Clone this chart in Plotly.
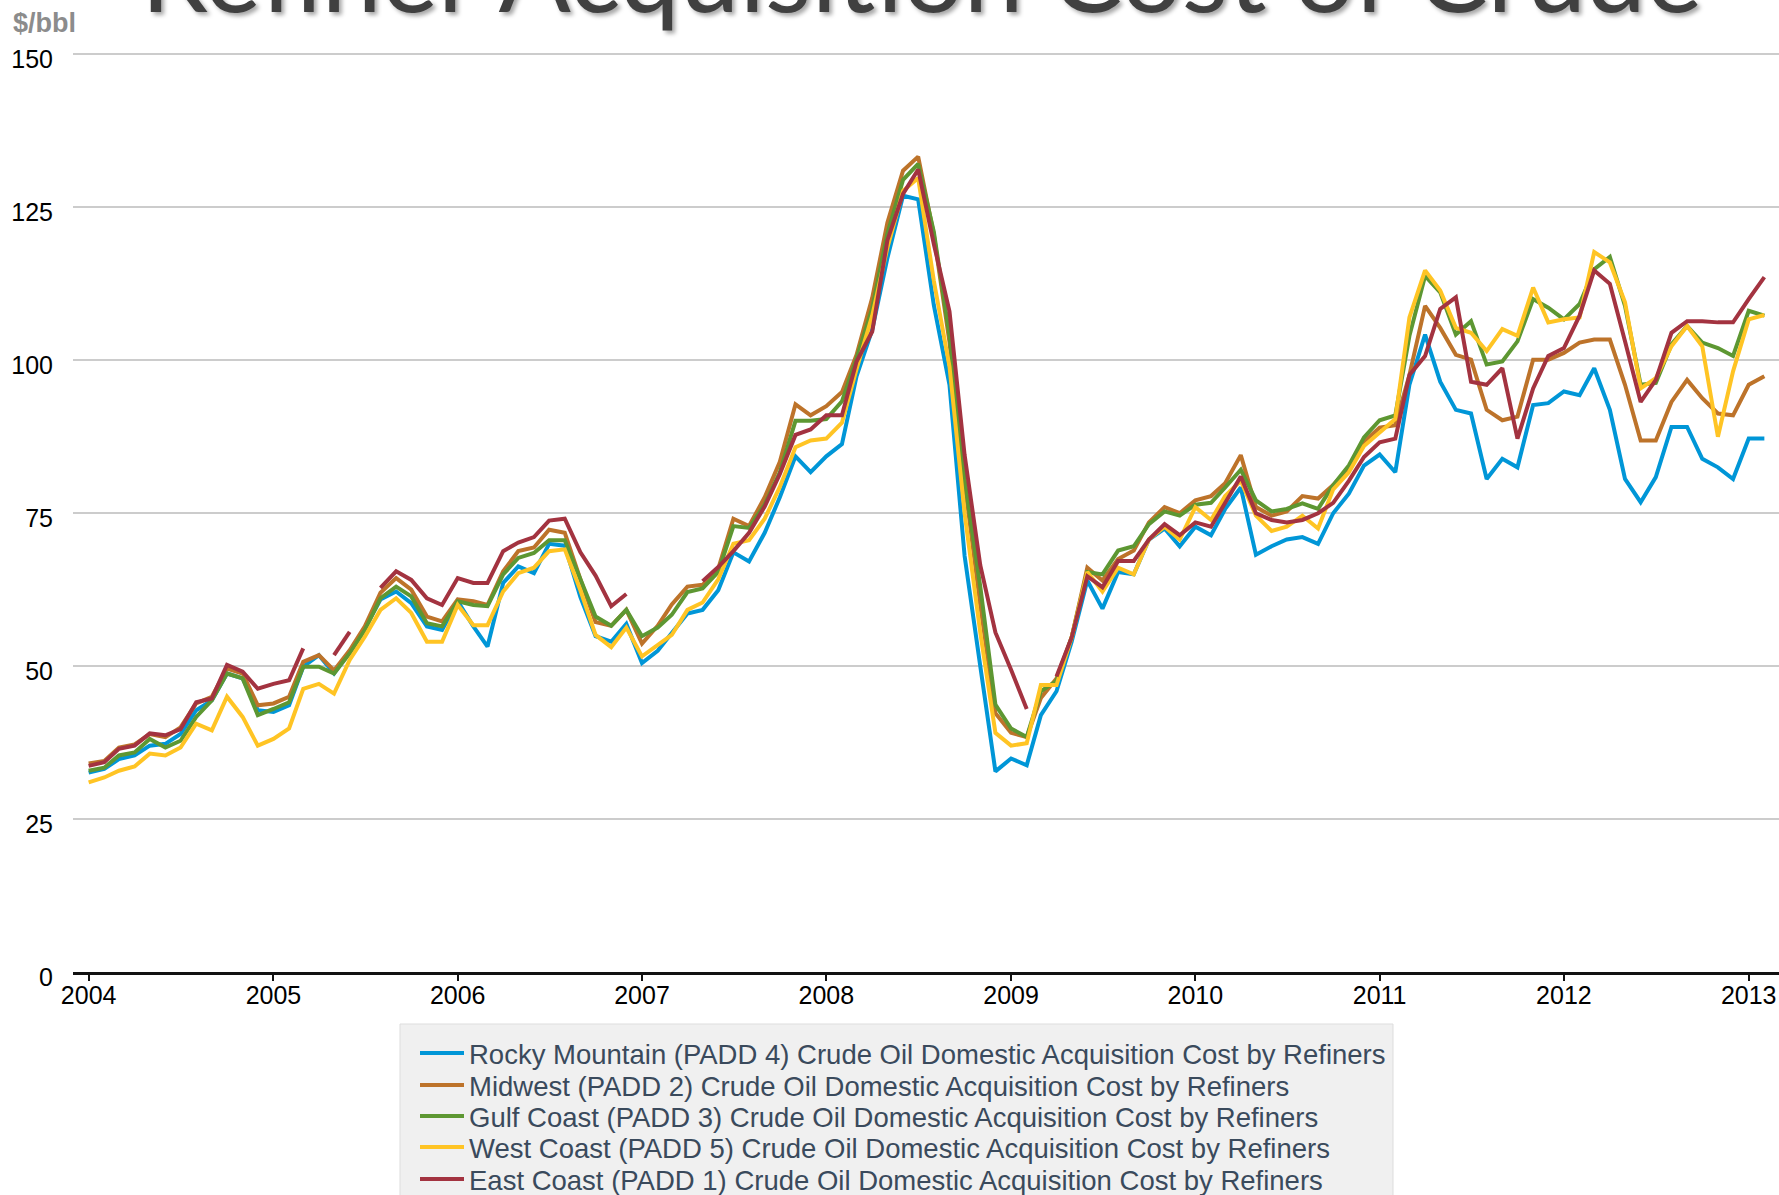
import pandas as pd
import plotly.graph_objects as go

# ---------------- data (monthly, Jan 2004 - Feb 2013, $/bbl) ----------------
months = pd.date_range("2004-01-01", periods=110, freq="MS")

rocky_mountain = [32.6,33.2,34.8,35.4,37.0,37.3,38.9,42.8,44.4,48.8,48.0,42.8,
                  42.5,43.6,49.9,51.8,48.8,52.4,56.2,60.9,62.2,60.3,56.5,55.9,
                  60.6,56.5,53.2,63.6,66.3,65.2,70.0,69.7,61.3,54.9,54.0,56.9,
                  50.5,52.5,55.4,58.6,59.2,62.4,68.6,67.1,71.8,77.6,84.3,81.7,
                  84.3,86.3,97.4,105.0,116.7,126.9,126.3,109.0,96.0,68.0,50.0,32.8,
                  34.9,33.8,42.0,45.9,54.0,64.0,59.4,65.4,65.0,70.7,72.5,69.6,
                  72.8,71.4,75.7,79.2,68.2,69.6,70.7,71.1,70.0,75.0,78.2,82.8,
                  84.6,81.7,96.0,104.2,96.5,91.9,91.3,80.6,83.9,82.5,92.7,93.0,
                  94.9,94.3,98.7,91.9,80.6,76.8,80.9,89.1,89.1,83.9,82.5,80.6,
                  87.2,87.2]

midwest = [34.1,34.5,36.7,37.2,38.9,38.4,40.0,43.9,45.0,49.6,48.8,43.6,
           43.9,45.0,50.7,51.8,49.3,52.6,56.5,62.0,64.4,62.5,58.1,57.3,
           60.9,60.6,60.0,65.5,68.8,69.4,72.3,71.8,64.2,57.2,56.6,59.2,
           53.7,56.6,60.1,63.0,63.3,65.9,74.1,72.9,77.6,83.4,92.8,91.0,
           92.5,94.8,100.9,110.2,122.5,131.0,133.3,120.5,103.0,80.0,60.0,42.3,
           39.1,38.4,44.8,48.0,54.7,66.1,64.0,67.5,68.9,73.5,76.0,75.0,
           77.1,77.8,79.9,84.5,76.0,74.6,75.3,77.8,77.4,79.6,82.4,86.7,
           89.0,89.4,97.6,108.9,105.3,100.9,100.1,91.9,90.2,90.8,100.1,100.1,
           101.2,102.9,103.4,103.4,96.0,86.9,86.9,93.2,96.8,93.8,91.3,91.0,
           96.0,97.4]

gulf_coast = [32.9,33.4,35.4,35.9,38.1,36.7,37.8,41.7,44.4,48.8,48.0,42.0,
              43.0,44.1,49.9,49.9,48.8,52.1,55.9,61.1,63.0,61.4,57.0,56.5,
              60.6,60.0,59.8,65.0,67.7,68.5,70.6,70.6,64.2,58.1,56.6,59.2,
              54.9,56.3,58.4,62.1,62.7,65.4,72.9,72.6,76.4,81.7,90.1,90.1,
              90.4,93.3,100.3,108.5,120.7,129.5,132.1,121.0,104.0,80.5,63.0,43.7,
              39.8,38.4,45.9,47.6,54.7,65.4,65.0,68.9,69.6,73.2,75.3,74.6,
              76.4,76.7,79.2,82.1,77.1,75.3,75.7,76.6,75.7,79.6,82.8,87.4,
              90.2,91.0,104.0,113.8,111.1,104.2,106.4,99.3,99.8,103.1,110.0,108.6,
              106.7,109.2,114.9,116.9,108.9,96.0,96.3,102.6,105.6,102.9,102.0,100.7,
              108.1,107.3]

west_coast = [31.0,31.8,32.9,33.6,35.7,35.4,36.7,40.6,39.5,45.0,41.7,37.0,
              38.1,39.8,46.3,47.1,45.5,51.0,54.8,59.2,61.1,58.7,54.0,54.0,
              60.0,56.7,56.7,62.2,65.2,66.1,68.8,69.1,62.4,55.1,53.1,56.3,
              51.6,53.4,55.1,59.2,60.4,64.2,70.0,70.6,74.1,79.3,85.8,86.9,
              87.2,89.8,98.6,107.3,118.4,127.7,129.8,113.0,99.0,75.0,55.5,39.1,
              37.0,37.4,46.9,46.9,54.7,65.4,62.2,66.1,65.0,70.7,72.8,70.7,
              76.0,73.9,77.8,80.3,74.6,72.1,72.8,74.6,72.5,78.9,81.7,86.0,
              88.3,90.4,107.0,114.7,111.4,105.3,104.5,101.5,105.1,104.0,111.9,106.2,
              106.7,107.0,117.7,116.0,109.5,95.4,97.1,102.3,105.6,102.3,87.5,98.2,
              106.7,107.4]

east_coast = [33.7,34.3,36.5,37.0,39.0,38.7,39.7,44.1,44.7,50.2,49.1,46.3,
              47.1,47.7,52.9,None,51.8,55.6,None,62.8,65.5,64.1,61.1,60.0,
              64.4,63.6,63.6,68.8,70.2,71.1,73.8,74.1,68.6,64.8,59.8,61.8,
              None,None,None,None,63.9,66.2,68.8,71.8,76.1,81.4,87.8,88.7,
              91.0,91.0,99.8,104.7,119.6,127.2,131.2,119.0,108.0,84.5,66.5,55.5,
              49.4,43.0,None,48.3,54.7,64.7,62.9,67.2,67.2,70.7,73.2,71.4,
              73.5,72.8,76.7,81.0,75.0,73.9,73.5,73.9,75.0,76.7,80.3,84.2,
              86.6,87.2,97.6,100.7,108.4,110.3,96.5,96.0,98.7,87.2,95.4,100.7,
              102.0,107.3,114.7,112.5,103.1,93.2,96.8,104.5,106.4,106.4,106.2,106.2,
              110.0,113.6]

series_names = [
    "Rocky Mountain (PADD 4) Crude Oil Domestic Acquisition Cost by Refiners",
    "Midwest (PADD 2) Crude Oil Domestic Acquisition Cost by Refiners",
    "Gulf Coast (PADD 3) Crude Oil Domestic Acquisition Cost by Refiners",
    "West Coast (PADD 5) Crude Oil Domestic Acquisition Cost by Refiners",
    "East Coast (PADD 1) Crude Oil Domestic Acquisition Cost by Refiners",
]
series_values = [rocky_mountain, midwest, gulf_coast, west_coast, east_coast]
year_ticks = pd.date_range("2004-01-01", periods=10, freq="YS")
year_labels = [str(d.year) for d in year_ticks]
y_ticks = [0, 25, 50, 75, 100, 125, 150]

# ---------------- styling ----------------
colors = ["#0096D7", "#BD732A", "#5D9732", "#FFC424", "#A33340"]
W, H = 1779, 1195
L, R, T, B = 73, 0, 52, 223
pw, ph = W - L - R, H - T - B


def px_x(p):
    return (p - L) / pw


def px_y(p):
    return (H - B - p) / ph


legend_ids = ["legend", "legend2", "legend3", "legend4", "legend5"]
legend_rows = [1053, 1085, 1116, 1147, 1179]

fig = go.Figure()
for name, vals, col, lid in zip(series_names, series_values, colors, legend_ids):
    fig.add_trace(go.Scatter(
        x=months, y=vals, mode="lines", name=name,
        line=dict(color=col, width=4),
        connectgaps=False, legend=lid, hoverinfo="skip",
    ))

legend_font = dict(family="Liberation Sans, Arial, sans-serif", size=27.5, color="#3a4a5c")
layout_legends = {}
for lid, row in zip(legend_ids, legend_rows):
    layout_legends[lid] = dict(
        x=px_x(415), xanchor="left", y=px_y(row), yanchor="middle",
        bgcolor="rgba(0,0,0,0)", borderwidth=0, font=legend_font,
        itemwidth=44, itemclick=False, itemdoubleclick=False,
    )

tick_font = dict(family="Liberation Sans, Arial, sans-serif", size=25, color="#000000")

fig.update_layout(
    width=W, height=H,
    margin=dict(l=L, r=R, t=T, b=B, pad=0, autoexpand=False),
    paper_bgcolor="white", plot_bgcolor="white",
    showlegend=True,
    **layout_legends,
    xaxis=dict(
        type="date", range=["2003-12-01", "2013-03-02"],
        tickvals=year_ticks, ticktext=year_labels,
        showgrid=False, zeroline=False,
        showline=True, linecolor="#111111", linewidth=3,
        ticks="outside", ticklen=6, tickwidth=2, tickcolor="#111111",
        ticklabelstandoff=-7,
        tickfont=tick_font, automargin=False,
        fixedrange=True,
    ),
    yaxis=dict(
        range=[0, 150.4], tickvals=y_ticks,
        showgrid=True, gridcolor="#cccccc", gridwidth=2,
        zeroline=False, showline=False, ticks="",
        ticklabelstandoff=19, ticklabelshift=5,
        tickfont=tick_font, automargin=False,
        fixedrange=True,
    ),
    shapes=[
        dict(type="rect", xref="paper", yref="paper",
             x0=px_x(400), x1=px_x(1393), y0=px_y(1024), y1=px_y(1210),
             fillcolor="#f0f0f0", line=dict(color="#dddddd", width=1), layer="below"),
    ],
    annotations=[
        dict(text="Refiner Acquisition Cost of Crude", xref="paper", yref="paper",
             x=px_x(922), xanchor="center", y=px_y(37), yanchor="bottom",
             showarrow=False,
             font=dict(family="Lato, Open Sans, sans-serif", size=107, color="#404040",
                       shadow="3px 3px 4px rgba(0,0,0,0.35)")),
        dict(text="<b>$/bbl</b>", xref="paper", yref="paper",
             x=px_x(11), xanchor="left", y=px_y(23), yanchor="middle",
             showarrow=False,
             font=dict(family="Liberation Sans, Arial, sans-serif", size=27, color="#8c8c8c")),
    ],
)

fig.write_html(
    "out.html",
    config={"displayModeBar": False},
    post_script="document.body.style.margin='0px';document.body.style.overflow='hidden';",
)
